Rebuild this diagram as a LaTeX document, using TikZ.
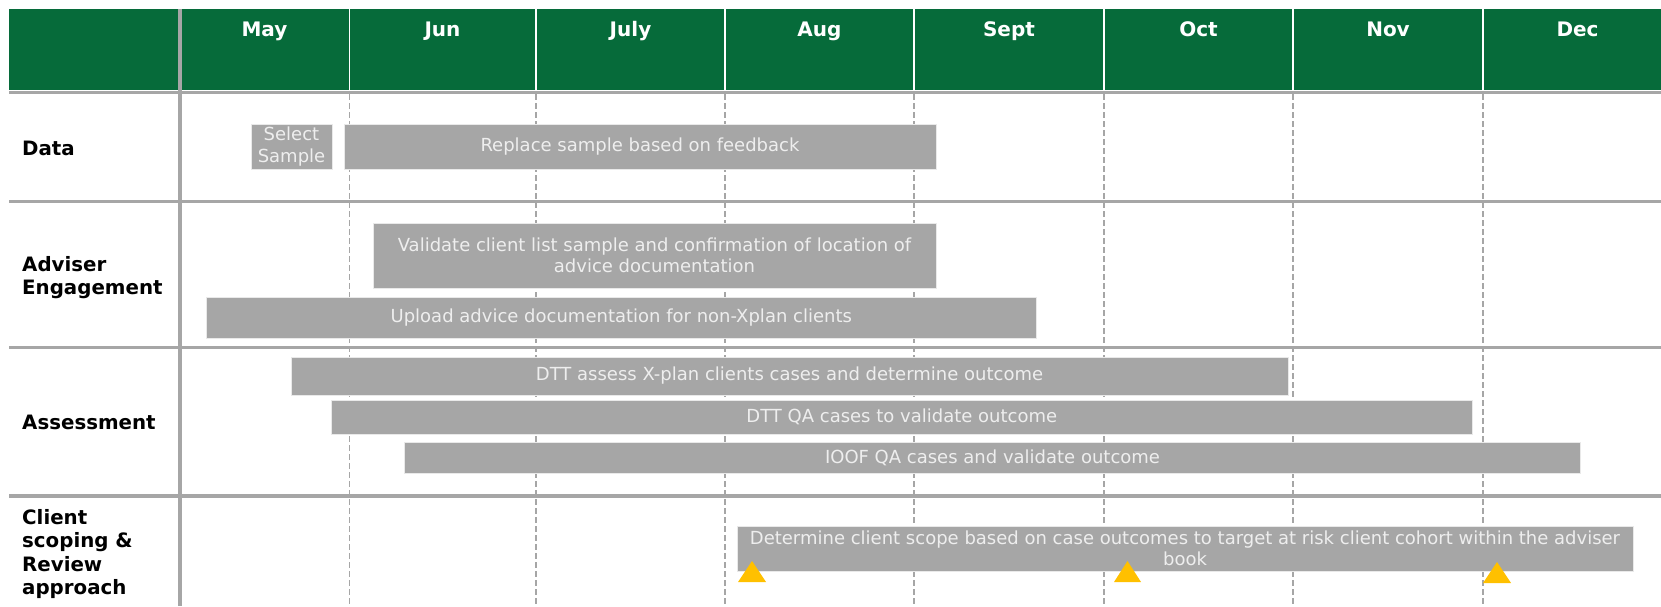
\documentclass[tikz,border=0pt]{standalone}
\usepackage{fontspec}
\setmainfont{DejaVu Sans}
\usetikzlibrary{%
    shapes,%
    positioning,%
    calc%
}
\definecolor{hdrgreen}{HTML}{066B3A}
\definecolor{bargray}{HTML}{A6A6A6}
\definecolor{bartext}{HTML}{EEEEEE}
\definecolor{gridgray}{HTML}{A6A6A6}
\definecolor{msorange}{HTML}{FFC000}
\tikzset{
    month/.style = {anchor = base, text = white, inner sep = 0pt, font = \fontsize{20}{24}\selectfont\bfseries},
    rowlabel/.style = {anchor = west, align = left, inner sep = 0pt, font =
    \fontsize{19.8}{23.6}\selectfont\bfseries},
    task/.style = {draw = white!75!bargray, line width = 0.8pt, fill = bargray,
    text = bartext, align = center, inner sep = 0pt, font = \fontsize{18}{21.5}\selectfont},
    rule/.style = {draw = gridgray, line width = 3.5pt},
    tick/.style = {draw = gridgray, line width = 1.5pt, dash pattern = on 6pt off 3pt},
    sep/.style = {draw = white, line width = 1.5pt},
    marker/.style = {fill = msorange}
}

\begin{document}
\begin{tikzpicture}[x=1pt, y=-1pt]
    \useasboundingbox (0,0) rectangle (1661,606);

    % header band
    \fill[hdrgreen] (9,9) rectangle (1661,90);
    \draw[sep] (349.5,9) -- (349.5,90);
    \draw[sep] (536,9) -- (536,90);
    \draw[sep] (725,9) -- (725,90);
    \draw[sep] (914,9) -- (914,90);
    \draw[sep] (1104,9) -- (1104,90);
    \draw[sep] (1293,9) -- (1293,90);
    \draw[sep] (1483,9) -- (1483,90);

    \node[month] (may)  at (264.5,36) {May};
    \node[month] (jun)  at (442.5,36) {Jun};
    \node[month] (jul)  at (630.5,36) {July};
    \node[month] (aug)  at (819.5,36) {Aug};
    \node[month] (sep)  at (1009,36) {Sept};
    \node[month] (oct)  at (1198.5,36) {Oct};
    \node[month] (nov)  at (1388,36) {Nov};
    \node[month] (dec)  at (1577.5,36) {Dec};

    % month boundaries
    \draw[tick] (349.5,94) -- (349.5,606);
    \draw[tick] (536,94) -- (536,606);
    \draw[tick] (725,94) -- (725,606);
    \draw[tick] (914,94) -- (914,606);
    \draw[tick] (1104,94) -- (1104,606);
    \draw[tick] (1293,94) -- (1293,606);
    \draw[tick] (1483,94) -- (1483,606);

    % row rules
    \draw[rule] (9,92.5) -- (1661,92.5);
    \draw[rule] (9,201.5) -- (1661,201.5);
    \draw[rule] (9,347.5) -- (1661,347.5);
    \draw[rule] (9,496) -- (1661,496);
    \draw[rule] (180,9) -- (180,606);

    % row labels
    \node[rowlabel] (data) at (22,148) {Data};
    \node[rowlabel] (adviser) at (22,277.5) {Adviser\\Engagement};
    \node[rowlabel] (assessment) at (22,422.5) {Assessment};
    \node[rowlabel] (client) at (22,554) {Client\\scoping \&\\Review\\approach};

    % tasks
    \node[task, minimum width = 81, minimum height = 45] (select) at (291.5,146.5) {Select\\Sample};
    \node[task, minimum width = 592, minimum height = 45] (replace) at (640,146.5) {Replace sample based on feedback};
    \node[task, minimum width = 563, minimum height = 65] (validate) at (654.5,255.5)
        {Validate client list sample and confirmation of location of\\advice documentation};
    \node[task, minimum width = 829.5, minimum height = 41] (upload) at (621.25,317.5)
        {Upload advice documentation for non-Xplan clients};
    \node[task, minimum width = 997, minimum height = 38] (dttassess) at (789.5,376)
        {DTT assess X-plan clients cases and determine outcome};
    \node[task, minimum width = 1140.5, minimum height = 34] (dttqa) at (901.75,417)
        {DTT QA cases to validate outcome};
    \node[task, minimum width = 1176, minimum height = 31] (ioofqa) at (992.5,457.5)
        {IOOF QA cases and validate outcome};
    \node[task, minimum width = 896, minimum height = 45] (scope) at (1185,548.5)
        {Determine client scope based on case outcomes to target at risk client cohort within the adviser\\book};

    % milestones
    \fill[marker] (738,582) -- ++(28,0) -- ++(-14,-21) -- cycle;
    \fill[marker] (1114,582) -- ++(27,0) -- ++(-13.5,-21) -- cycle;
    \fill[marker] (1483,583) -- ++(28,0) -- ++(-14,-21) -- cycle;

\end{tikzpicture}
\end{document}
